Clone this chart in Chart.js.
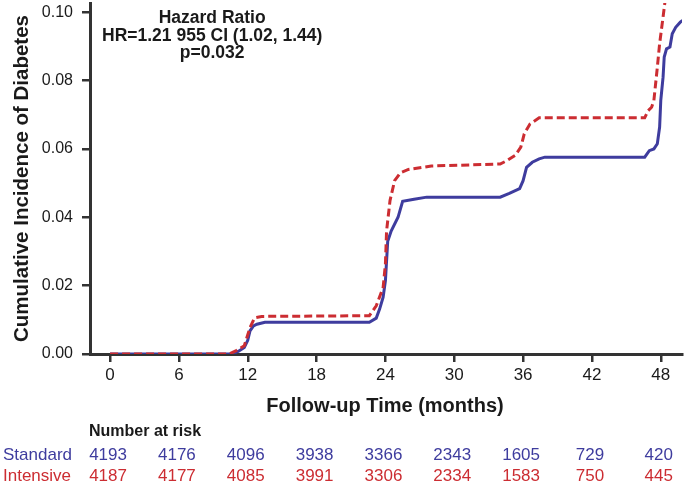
<!DOCTYPE html>
<html><head><meta charset="utf-8">
<script src="https://cdn.jsdelivr.net/npm/chart.js@4"></script>
<style>html,body{margin:0;padding:0;background:#fff}#wrap{width:687px;height:488px;position:relative}</style>
</head><body><div id="wrap"><canvas id="c" width="687" height="488"></canvas></div>
<script>
const xTicks = [0, 6, 12, 18, 24, 30, 36, 42, 48];
const yTicks = [0, 0.02, 0.04, 0.06, 0.08, 0.10];

const standardMonths = [0, 10.6, 11.2, 11.7, 12.0, 12.2, 12.5, 12.8, 13.5, 22.6, 23.2, 23.5, 23.8, 24.0, 24.2, 24.5, 25.1, 25.5, 26.5, 27.6, 34.0, 34.8, 35.7, 36.0, 36.3, 36.8, 37.4, 37.9, 46.6, 47.0, 47.4, 47.7, 47.9, 48.0, 48.2, 48.3, 48.5, 48.8, 49.0, 49.3, 49.7, 49.9];
const standardIncidence = [0, 0, 0.0008, 0.0019, 0.004, 0.0068, 0.0082, 0.0087, 0.0093, 0.0093, 0.0105, 0.0132, 0.0166, 0.0215, 0.033, 0.036, 0.040, 0.0447, 0.0453, 0.0459, 0.0459, 0.047, 0.0484, 0.0507, 0.0546, 0.0561, 0.0571, 0.0576, 0.0576, 0.0595, 0.0600, 0.0615, 0.0664, 0.0742, 0.081, 0.0869, 0.0893, 0.0898, 0.0937, 0.0956, 0.0971, 0.0976];

const intensiveMonths = [0, 10.4, 11.0, 11.7, 12.2, 12.6, 13.2, 22.6, 23.2, 23.8, 24.0, 24.1, 24.4, 24.8, 25.3, 26.0, 28.0, 34.0, 34.6, 35.3, 35.8, 36.1, 36.6, 37.4, 46.6, 46.9, 47.2, 47.4, 47.7, 47.9, 48.2, 48.4];
const intensiveIncidence = [0, 0, 0.001, 0.0024, 0.0078, 0.0106, 0.011, 0.0112, 0.0141, 0.0195, 0.0264, 0.036, 0.0449, 0.0507, 0.053, 0.054, 0.055, 0.0556, 0.0566, 0.0581, 0.0605, 0.0644, 0.0673, 0.0691, 0.0691, 0.0712, 0.0722, 0.0742, 0.0839, 0.0908, 0.0986, 0.104];

const riskTimes = [0, 6, 12, 18, 24, 30, 36, 42, 48];
const standardAtRisk = [4193, 4176, 4096, 3938, 3366, 2343, 1605, 729, 420];
const intensiveAtRisk = [4187, 4177, 4085, 3991, 3306, 2334, 1583, 750, 445];
const seriesNames = ['Standard', 'Intensive'];
const annotationLines = ['Hazard Ratio', 'HR=1.21 955 CI (1.02, 1.44)', 'p=0.032'];
const xTitle = 'Follow-up Time (months)';
const yTitle = 'Cumulative Incidence of Diabetes';
const riskHeader = 'Number at risk';

const FONT = "'Liberation Sans', Arial, Helvetica, sans-serif";
const BLUE = 'rgb(62,60,158)';
const RED = 'rgb(204,45,50)';
const AXIS = '#333333';
const TEXT = '#1a1a1a';

const pts = (xs, ys) => xs.map((x, i) => ({x: x, y: ys[i]}));

const textPlugin = {
  id: 'texts',
  afterDraw(chart) {
    const ctx = chart.ctx;
    const xs = chart.scales.x;
    const ca = chart.chartArea;
    ctx.save();
    ctx.fillStyle = TEXT;
    ctx.textAlign = 'center';
    ctx.textBaseline = 'alphabetic';
    ctx.font = "bold 20px " + FONT;
    ctx.fillText(xTitle, (ca.left + ca.right) / 2 - 1, 412);
    ctx.font = "bold 17.5px " + FONT;
    const ax = xs.getPixelForValue(8.9);
    annotationLines.forEach((t, i) => ctx.fillText(t, ax, 23 + i * 17.5));
    ctx.textAlign = 'left';
    ctx.font = "bold 16px " + FONT;
    ctx.fillText(riskHeader, ca.left - 1, 436);
    ctx.font = "17px " + FONT;
    ctx.fillStyle = BLUE;
    ctx.fillText(seriesNames[0], 3, 460);
    ctx.fillStyle = RED;
    ctx.fillText(seriesNames[1], 3, 481);
    ctx.textAlign = 'center';
    riskTimes.forEach((t, i) => {
      const px = xs.getPixelForValue(t) - 2;
      ctx.fillStyle = BLUE;
      ctx.fillText(String(standardAtRisk[i]), px, 460);
      ctx.fillStyle = RED;
      ctx.fillText(String(intensiveAtRisk[i]), px, 481);
    });
    ctx.restore();
  }
};

new Chart(document.getElementById('c'), {
  type: 'line',
  data: {
    datasets: [
      {
        label: seriesNames[1],
        data: pts(intensiveMonths, intensiveIncidence),
        borderColor: RED,
        borderWidth: 3,
        borderDash: [8, 4],
        pointRadius: 0,
        tension: 0,
        fill: false
      },
      {
        label: seriesNames[0],
        data: pts(standardMonths, standardIncidence),
        borderColor: BLUE,
        borderWidth: 3,
        pointRadius: 0,
        tension: 0,
        fill: false
      }
    ]
  },
  options: {
    responsive: false,
    animation: false,
    devicePixelRatio: 1,
    layout: {padding: {left: 0, right: 5, top: 3, bottom: 0}},
    plugins: {legend: {display: false}, tooltip: {enabled: false}},
    scales: {
      x: {
        type: 'linear',
        min: -1.75,
        max: 49.85,
        afterBuildTicks: s => { s.ticks = xTicks.map(v => ({value: v})); },
        afterFit: s => { s.height = 134; s.paddingLeft = 0; s.paddingRight = 0; },
        grid: {drawOnChartArea: false, drawTicks: true, tickLength: 8, color: AXIS, lineWidth: 2.5},
        border: {display: true, color: AXIS, width: 3},
        ticks: {font: {family: FONT, size: 17}, color: TEXT, padding: 3, maxRotation: 0, autoSkip: false,
                callback: v => String(v)}
      },
      y: {
        type: 'linear',
        min: 0,
        max: 0.1027,
        afterBuildTicks: s => { s.ticks = yTicks.map(v => ({value: v})); },
        afterFit: s => { s.width = 90; s.paddingTop = 0; s.paddingBottom = 0; },
        grid: {drawOnChartArea: false, drawTicks: true, tickLength: 8, color: AXIS, lineWidth: 2.5},
        border: {display: true, color: AXIS, width: 3},
        ticks: {font: {family: FONT, size: 16}, color: TEXT, padding: 9, autoSkip: false,
                callback: v => Number(v).toFixed(2)},
        title: {display: true, text: yTitle, color: TEXT, font: {family: FONT, size: 20.5, weight: 'bold'},
                padding: {top: 10, bottom: 0}}
      }
    }
  },
  plugins: [textPlugin]
});
</script>
</body></html>
